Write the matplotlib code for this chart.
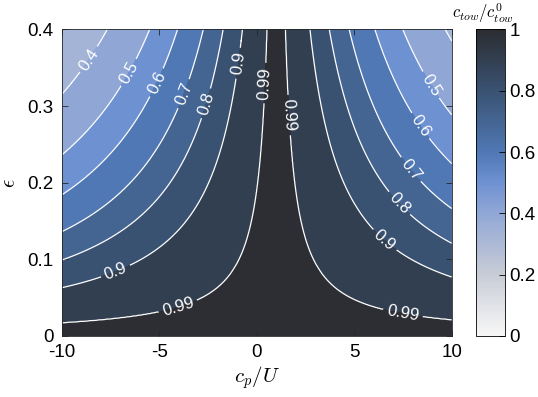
import numpy as np
import matplotlib
matplotlib.use("Agg")
import matplotlib.pyplot as plt
from matplotlib.colors import LinearSegmentedColormap, Normalize
from matplotlib.cm import ScalarMappable

# ---- data ----
cp_range = [-10, 10]              # c_p/U axis
eps_range = [0, 0.4]              # epsilon axis
cp_center = 1.0                   # symmetry axis of the field (c_p/U = 1)
levels = [0.4, 0.5, 0.6, 0.7, 0.8, 0.9, 0.99]
# epsilon where each contour level meets the left edge (c_p/U = -10)
eps_left_edge = [0.315, 0.236, 0.184, 0.136, 0.099, 0.063, 0.0174]
corner_value = 0.33               # value at the top-left corner (estimate)
xticks = [-10, -5, 0, 5, 10]
yticks = [0, 0.1, 0.2, 0.3, 0.4]
cbar_ticks = [0, 0.2, 0.4, 0.6, 0.8, 1]

# ---- build field: value depends on eps*|c_p/U - 1| ----
dist_left = cp_center - cp_range[0]
k_nodes = [0.0] + [e * dist_left for e in eps_left_edge[::-1]] + [eps_range[1] * dist_left * 1.05]
f_nodes = [1.0] + levels[::-1] + [corner_value * 0.98]
x = np.linspace(cp_range[0], cp_range[1], 801)
y = np.linspace(eps_range[0], eps_range[1], 401)
X, Y = np.meshgrid(x, y)
K = Y * np.abs(X - cp_center)
Z = np.interp(K, k_nodes, f_nodes)

# ---- colormap ----
cmap = LinearSegmentedColormap.from_list("tow", [
    (0.0, "#f7f7f7"),
    (0.2, "#c8ccd6"),
    (0.4, "#90a7d6"),
    (0.5, "#6f91d2"),
    (0.6, "#4f78b4"),
    (0.8, "#3a5272"),
    (1.0, "#2b2d31"),
])
norm = Normalize(0, 1)

plt.rcParams['font.family'] = ['Liberation Sans', 'DejaVu Sans']
plt.rcParams['mathtext.fontset'] = 'cm'

fig = plt.figure(figsize=(5.38, 3.97), dpi=100)
ax = fig.add_axes([0.1147, 0.1537, 0.7249, 0.7723])

fill_levels = [0.0] + levels + [1.0001]
band_vals = [0.33] + levels
band_colors = [cmap(norm(v)) for v in band_vals]
ax.contourf(X, Y, Z, levels=fill_levels, colors=band_colors)
cs = ax.contour(X, Y, Z, levels=levels, colors='white', linewidths=0.9)

label_pos = [(-8.56, 0.36), (-6.51, 0.343), (-5.08, 0.33), (-3.85, 0.317),
             (-2.67, 0.304), (-0.97, 0.356), (0.31, 0.33), (1.49, 0.288),
             (8.77, 0.325), (8.15, 0.27), (7.85, 0.216), (7.23, 0.171),
             (6.56, 0.125), (7.49, 0.029), (-7.23, 0.084), (-4.05, 0.040)]
ax.clabel(cs, fmt=lambda v: f"{v:g}", colors='white', fontsize=12,
          manual=label_pos, inline=True, inline_spacing=4)

ax.set_xlim(cp_range)
ax.set_ylim(eps_range)
ax.set_xticks(xticks)
ax.set_yticks(yticks)
ax.set_xticklabels([f"{t:g}" for t in xticks])
ax.set_yticklabels([f"{t:g}" for t in yticks])
ax.tick_params(direction='in', top=True, right=True, length=4, width=0.6,
               labelsize=13.5, color='#262626', labelcolor='black', pad=6)
for s in ax.spines.values():
    s.set_linewidth(0.6)
    s.set_color('#262626')
ax.set_xlabel(r"$c_p/U$", fontsize=15, labelpad=2)
ax.set_ylabel(r"$\epsilon$", fontsize=15)
ax.yaxis.set_label_coords(-0.11, 0.5)

cax = fig.add_axes([0.8848, 0.1537, 0.0539, 0.7723])
cb = fig.colorbar(ScalarMappable(norm=norm, cmap=cmap), cax=cax, ticks=cbar_ticks)
cb.ax.set_yticklabels([f"{t:g}" for t in cbar_ticks])
cb.ax.tick_params(direction='in', length=4, width=0.6, labelsize=13.5, pad=3)
cb.outline.set_linewidth(0.6)
fig.text(483 / 538, 1 - 13 / 397, r"$c_{tow}/c_{tow}^{0}$", fontsize=12,
         ha='center', va='center')

fig.savefig("out.png", dpi=100)
